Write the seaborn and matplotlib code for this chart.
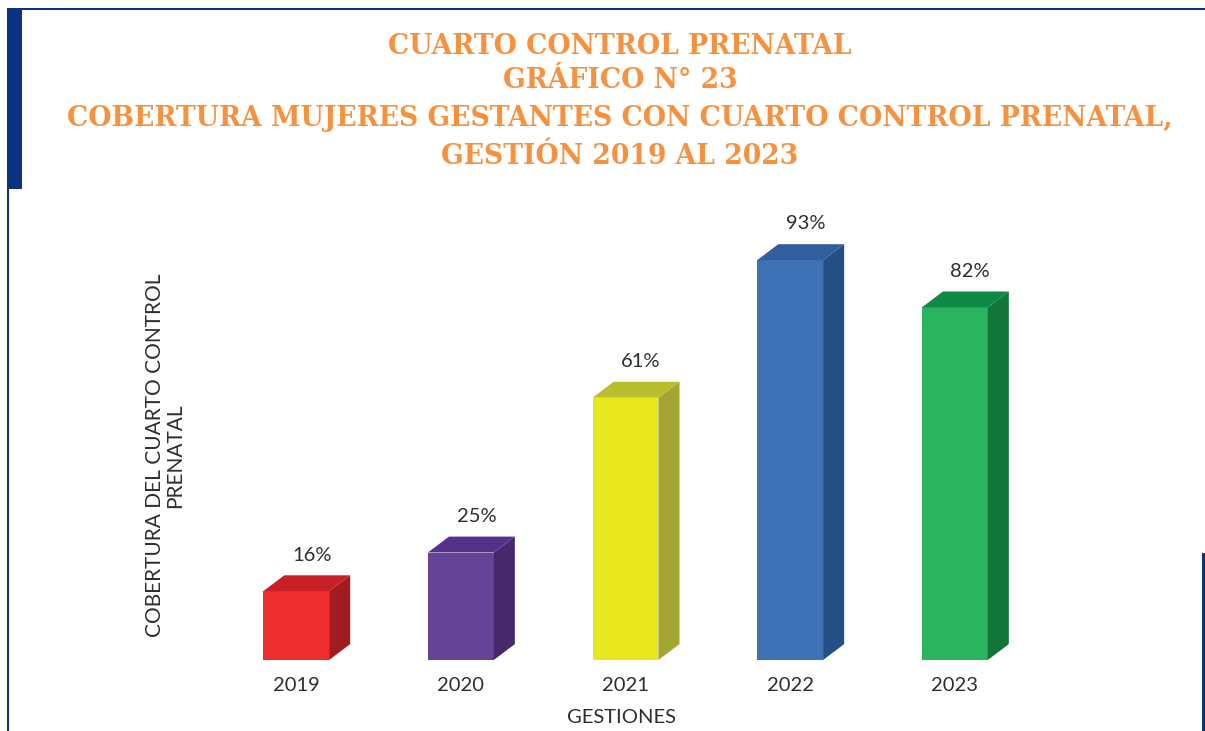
import matplotlib.pyplot as plt
import seaborn as sns
import pandas as pd
from matplotlib.patches import Polygon, Rectangle

# data
years = ['2019', '2020', '2021', '2022', '2023']
coverage = [16, 25, 61, 93, 82]

# colours of the 3d faces
front_colors = ['#EE2E2E', '#654497', '#E9E81E', '#3F71B6', '#2BB45F']
side_colors = ['#A11B1F', '#47296B', '#A5A532', '#234F85', '#127539']
top_colors = ['#C82027', '#55318A', '#BABD2E', '#325D9E', '#0E8A44']

title_lines = ['CUARTO CONTROL PRENATAL',
               'GRÁFICO N° 23',
               'COBERTURA MUJERES GESTANTES CON CUARTO CONTROL PRENATAL,',
               'GESTIÓN 2019 AL 2023']

df = pd.DataFrame({'gestion': years, 'cobertura': coverage})

sns.set_theme(style='white')
plt.rcParams['font.family'] = ['Lato', 'DejaVu Sans']

W, H = 1205, 731
txt = '#2e2e2e'
fs = 14.5

fig = plt.figure(figsize=(W / 100, H / 100), dpi=100)
fig.patch.set_facecolor('white')
ax = fig.add_axes([148 / W, 71 / H, 955 / W, 473 / H])

sns.barplot(data=df, x='gestion', y='cobertura', hue='gestion',
            palette=front_colors, width=0.4, saturation=1, legend=False,
            edgecolor='none', ax=ax)
ax.set_xlim(-0.9, 4.9)
ax.set_ylim(0, 110)

# fake 3d depth
dx, dy = 0.128, 3.7
for bar, sc, tc, v in zip(ax.patches, side_colors, top_colors, coverage):
    x0, w, h = bar.get_x(), bar.get_width(), bar.get_height()
    ax.add_patch(Polygon([(x0 + w, 0), (x0 + w + dx, dy), (x0 + w + dx, h + dy), (x0 + w, h)],
                         closed=True, facecolor=sc, edgecolor='none'))
    ax.add_patch(Polygon([(x0, h), (x0 + dx, h + dy), (x0 + w + dx, h + dy), (x0 + w, h)],
                         closed=True, facecolor=tc, edgecolor='none'))
    ax.text(x0 + w / 2 + dx / 2 + 0.03, h + dy + 4.7, f'{v}%', ha='center', va='center',
            fontsize=fs, color=txt)

sns.despine(ax=ax, left=True, bottom=True)
ax.set_yticks([])
ax.tick_params(axis='x', length=0, pad=12, labelsize=fs, labelcolor=txt)

ax.set_xlabel('GESTIONES', fontsize=fs, color=txt)
ax.xaxis.set_label_coords(0.496, -0.104)
ax.set_ylabel('COBERTURA DEL CUARTO CONTROL\nPRENATAL', fontsize=15, color=txt,
              va='center', linespacing=1.0)
ax.yaxis.set_label_coords(0.018, 0.433)

# title
for line, yc in zip(title_lines, [47, 81, 119, 157]):
    fig.text(620 / W, 1 - yc / H, line, ha='center', va='center', fontsize=19.2,
             fontweight='bold', color='#F7913D', family='DejaVu Serif')

# frame
navy = '#0B3280'
frame = [(7, 8, 1198, 2), (7, 8, 15, 181), (7, 189, 2, 542), (1202, 553, 3, 178)]
for x, y, w, h in frame:
    fig.add_artist(Rectangle((x / W, 1 - (y + h) / H), w / W, h / H,
                             transform=fig.transFigure, facecolor=navy, edgecolor='none'))

fig.savefig('out.png', dpi=100)
